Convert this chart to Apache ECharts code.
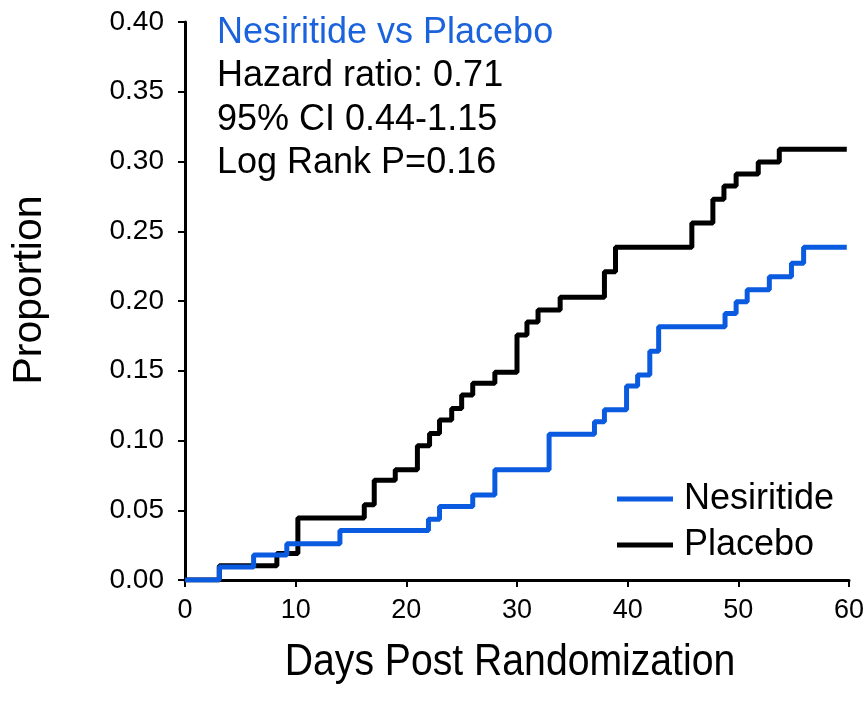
<!DOCTYPE html>
<html>
<head>
<meta charset="utf-8">
<script src="https://cdn.jsdelivr.net/npm/echarts@6/dist/echarts.min.js"></script>
<style>
  html, body { margin: 0; padding: 0; background: #ffffff; }
  #chart { width: 868px; height: 711px; }
</style>
</head>
<body>
<div id="chart"></div>
<script>
// Kaplan-Meier cumulative event curves: day of each step and proportion after it
const nesiritideDays = [0, 3.1, 6.2, 9.2, 14.0, 22.0, 23.0, 26.0, 28.0, 32.9, 37.0, 37.9, 39.9, 40.9, 42.0, 42.8, 48.8, 49.8, 50.8, 52.8, 54.8, 55.9, 59.8];
const nesiritideRisk = [0, 0.0093, 0.018, 0.026, 0.0355, 0.0435, 0.0526, 0.061, 0.079, 0.1045, 0.1135, 0.122, 0.139, 0.147, 0.164, 0.1816, 0.191, 0.1995, 0.208, 0.2174, 0.227, 0.2385, 0.2385];

const placeboDays = [0, 3.1, 8.3, 10.2, 16.2, 17.1, 19.0, 21.0, 22.1, 23.0, 24.1, 25.0, 26.0, 28.0, 30.0, 30.9, 31.9, 33.9, 37.9, 38.9, 45.8, 47.7, 48.7, 49.8, 51.8, 53.7, 59.8];
const placeboRisk = [0, 0.0103, 0.019, 0.0445, 0.054, 0.0715, 0.079, 0.0963, 0.105, 0.1147, 0.123, 0.1326, 0.141, 0.149, 0.1756, 0.185, 0.1935, 0.2027, 0.221, 0.2385, 0.256, 0.273, 0.2824, 0.291, 0.2996, 0.3087, 0.3087];

const seriesNames = ['Nesiritide', 'Placebo'];
const annotationLines = ['Nesiritide vs Placebo', 'Hazard ratio: 0.71', '95% CI 0.44-1.15', 'Log Rank P=0.16'];
const xTitle = 'Days Post Randomization';
const yTitle = 'Proportion';

const BLUE = '#0b5be0';
const FONT = '"Liberation Sans", Arial, sans-serif';

function pairs(xs, ys) { return xs.map((x, i) => [x, ys[i]]); }

const chart = echarts.init(document.getElementById('chart'), null, { renderer: 'canvas' });

const notes = annotationLines.map((t, i) => ({
  type: 'text', x: 217, y: 33 + i * 43.5,
  style: {
    text: t, fontFamily: FONT, fontSize: 36, verticalAlign: 'middle', align: 'left',
    fill: i === 0 ? '#1a63dc' : '#000'
  }
}));

chart.setOption({
  animation: false,
  backgroundColor: '#ffffff',
  grid: { left: 185, right: 19, top: 22, bottom: 131, containLabel: false },
  xAxis: {
    type: 'value', min: 0, max: 60, interval: 10,
    axisLine: { show: true, lineStyle: { color: '#000', width: 3 } },
    axisTick: { show: true, inside: false, length: 7, lineStyle: { color: '#000', width: 2 } },
    axisLabel: { fontFamily: FONT, fontSize: 27, color: '#000', margin: 17 },
    splitLine: { show: false }
  },
  yAxis: {
    type: 'value', min: 0, max: 0.4, interval: 0.05,
    axisLine: { show: true, lineStyle: { color: '#000', width: 3 } },
    axisTick: { show: true, inside: false, length: 7, lineStyle: { color: '#000', width: 2 } },
    axisLabel: { fontFamily: FONT, fontSize: 28, color: '#000', margin: 21, formatter: v => v.toFixed(2) },
    splitLine: { show: false }
  },
  legend: {
    orient: 'vertical', left: 612, top: 476, itemGap: 10,
    itemWidth: 56, itemHeight: 5, icon: 'rect',
    textStyle: { fontFamily: FONT, fontSize: 36, color: '#000', padding: [0, 0, 0, 6] },
    data: [seriesNames[0], seriesNames[1]]
  },
  series: [
    {
      name: seriesNames[1], type: 'line', step: 'end', showSymbol: false, z: 2,
      data: pairs(placeboDays, placeboRisk),
      lineStyle: { color: '#000', width: 5 }, itemStyle: { color: '#000' }
    },
    {
      name: seriesNames[0], type: 'line', step: 'end', showSymbol: false, z: 3,
      data: pairs(nesiritideDays, nesiritideRisk),
      lineStyle: { color: BLUE, width: 5 }, itemStyle: { color: BLUE }
    }
  ],
  graphic: notes.concat([
    {
      type: 'text', x: 510, y: 663, scaleX: 0.87,
      style: { text: xTitle, fontFamily: FONT, fontSize: 45, align: 'center', verticalAlign: 'middle', fill: '#000' }
    },
    {
      type: 'text', x: 30, y: 290, rotation: Math.PI / 2,
      style: { text: yTitle, fontFamily: FONT, fontSize: 41, align: 'center', verticalAlign: 'middle', fill: '#000' }
    }
  ])
});
</script>
</body>
</html>
